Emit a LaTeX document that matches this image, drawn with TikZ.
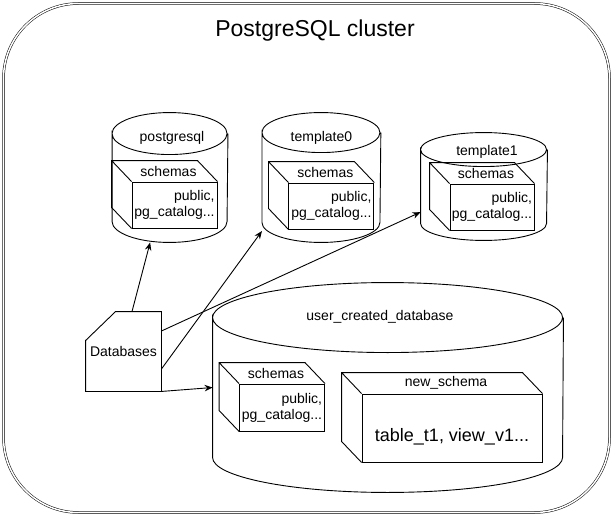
\documentclass[tikz,border=0pt]{standalone}
\usepackage{fontspec}
\setmainfont{Liberation Sans}
\usetikzlibrary{positioning, calc, arrows.meta}

% outline of a database drum round an empty node: #2 half width, #3 half height of the ellipse
\newcommand{\drum}[3]{%
  \draw ($(#1.north west)+(0,#3)$) arc[start angle=180, end angle=-180, x radius=#2pt, y radius=#3pt]
        -- ($(#1.south west)+(0,-#3)$) arc[start angle=180, end angle=360, x radius=#2pt, y radius=#3pt]
        -- ($(#1.north east)+(0,#3)$);}

% back edges of a schema box, drawn from its front face
\newcommand{\schemabox}[2]{%
  \draw ($(#1.south west)+(-20,-21)$) -- ($(#1.north west)+(-20,-21)$) -- ($(#1.north east)+(-20,-21)$) -- (#1.north east)
        (#1.north west) -- ++(-20,-21) (#1.south west) -- ++(-20,-21);
  \node at ($(#1.north)+(-6,-10.5)$) {#2};}

\begin{document}
\begin{tikzpicture}[x=1pt, y=-1pt, line width=.9pt, font=\fontsize{14}{16}\selectfont]
        \tikzstyle{dbase}=[rectangle, inner sep=0pt];
        \tikzstyle{face}=[draw, rectangle, align=right, minimum height=46pt, minimum width=85pt, inner sep=1pt];
        \tikzstyle{arr}=[-{Stealth[length=8pt, width=6.5pt]}];
        \useasboundingbox (0,0) rectangle (613,516);
        \draw[double, double distance=1.5pt, line width=.5pt, rounded corners=75pt] (3.5,3.5) rectangle (609.5,512.5);
        \node (title) at (315,31) {\fontsize{23}{26}\selectfont PostgreSQL cluster};

        \node[dbase, minimum width=115pt, minimum height=129pt] (pg) at (170,177.5) {};
        \node[dbase, minimum width=118pt, minimum height=129pt, right=34pt of pg] (t0) {};
        \node[dbase, minimum width=126pt, minimum height=107pt] (t1) at (484,186.5) {};
        \node[dbase, minimum width=350pt, minimum height=209pt] (ud) at (388,387.5) {};
        \drum{pg}{57.5}{21}
        \drum{t0}{59}{20}
        \drum{t1}{63}{17}
        \drum{ud}{175}{35}
        \node at ($(pg.north)+(2,25)$) {postgresql};
        \node at ($(t0.north)+(0,25)$) {template0};
        \node at ($(t1.north)+(3,19)$) {template1};
        \node at ($(ud.north)+(-8,34)$) {user\_created\_database};

        \node[face] (pgs) at ($(pg)+(4.5,27.5)$) {public,\\pg\_catalog...};
        \node[face] (t0s) at ($(t0)+(10,28.5)$) {public,\\pg\_catalog...};
        \node[face, minimum width=84pt] (t1s) at ($(t1)+(8,20.5)$) {public,\\pg\_catalog...};
        \node[face, minimum height=47pt] (uds) at (282,407.5) {public,\\pg\_catalog...};
        \node[face, minimum width=180pt, minimum height=68pt, text height=30pt] (news) at (452,428) {\fontsize{18}{21}\selectfont table\_t1, view\_v1...};
        \schemabox{pgs}{schemas}
        \schemabox{t0s}{schemas}
        \schemabox{t1s}{schemas}
        \schemabox{uds}{schemas}
        \schemabox{news}{new\_schema}

        \node[minimum width=75pt, minimum height=79pt] (dbs) at (123.5,351.5) {Databases};
        \draw ($(dbs.north west)+(0,29)$) -- ($(dbs.north west)+(30,0)$) -- (dbs.north east) -- (dbs.south east) -- (dbs.south west) -- cycle;

        \path[arr]
        ([xshift=8.5pt]dbs.north) edge (pg.253)
        ([yshift=-17.5pt]dbs.east) edge (t0.222)
        ([yshift=20.5pt]dbs.east) edge (t1.202)
        (dbs.south east) edge (ud.west);
\end{tikzpicture}
\end{document}
